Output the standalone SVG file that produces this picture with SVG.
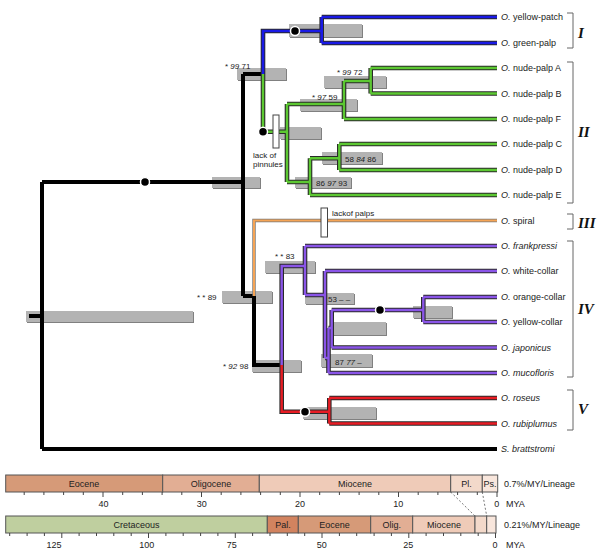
<svg xmlns="http://www.w3.org/2000/svg" xmlns:xlink="http://www.w3.org/1999/xlink" width="600" height="557" viewBox="0 0 600 557">
<style>
text{font-family:"Liberation Sans",Arial,sans-serif;fill:#222}
.tip{font-size:9px}
.sup{font-size:8px}
.num{font-family:"Liberation Serif","Times New Roman",serif;font-weight:bold;font-style:italic;font-size:15px;fill:#111}
.bar{fill:#b3b3b3}
.sh{fill:#808080}
.ol{fill:none;stroke:#2a2a2a;stroke-width:4.6;stroke-linejoin:miter;stroke-linecap:butt}
.blue{fill:none;stroke:#1a1ae6;stroke-width:2.6}
.green{fill:none;stroke:#5cc832;stroke-width:2.4}
.purple{fill:none;stroke:#8a55e8;stroke-width:2.4}
.red{fill:none;stroke:#e81c24;stroke-width:2.4}
.orange{fill:none;stroke:#f5a455;stroke-width:2}
.olo{fill:none;stroke:#777;stroke-width:3.4}
.blk{fill:none;stroke:#000;stroke-width:4}
.dot{fill:#000;stroke:#fff;stroke-width:1.5}
.chr{fill:#fff;stroke:#444;stroke-width:1}
.brk{fill:none;stroke:#666;stroke-width:1}
.ep{stroke:#555;stroke-width:1}
.tk{stroke:#444;stroke-width:1}
.tl{font-size:9px}
</style>
<defs>
<path id="pBlue" d="M263,74 V31 H321.7 M321.7,17 V43 M321.7,17 H497 M321.7,43 H497"/>
<path id="pGreen" d="M263,74 V131.7 H287 M287,104 V182 M287,104 H344 M344,81 V119 M344,81 H370.7 M370.7,68 V93.5 M370.7,68 H497 M370.7,93.5 H497 M344,119 H497 M287,182 H310 M310,158.3 V195 M310,158.3 H339.3 M339.3,144 V170 M339.3,144 H497 M339.3,170 H497 M310,195 H497"/>
<path id="pPurple" d="M281.7,365 V266 H305 M305,246 V295 M305,246 H497 M305,295 H325 M325,271 V358 M325,271 H497 M325,358 H328.5 M328.5,328 V373 M328.5,373 H497 M328.5,328 H331.7 M331.7,310 V347.5 M331.7,347.5 H497 M331.7,310 H423.3 M423.3,297 V322 M423.3,297 H497 M423.3,322 H497"/>
<path id="pRed" d="M281.7,365 V411.7 H329.3 M329.3,398 V423.5 M329.3,398 H497 M329.3,423.5 H497"/>
<path id="pOrange" d="M254,296 V220.5 H497"/>
</defs>

<g id="bars">
<rect class="sh" x="27" y="312" width="167" height="11"/><rect class="bar" x="26" y="311" width="167" height="11"/>
<rect class="sh" x="213" y="178" width="48" height="11"/><rect class="bar" x="212" y="177" width="48" height="11"/>
<rect class="sh" x="238" y="69" width="49" height="12"/><rect class="bar" x="237" y="68" width="49" height="12"/>
<rect class="sh" x="290" y="25" width="73" height="13"/><rect class="bar" x="289" y="24" width="73" height="13"/>
<rect class="sh" x="281" y="128" width="41" height="12"/><rect class="bar" x="280" y="127" width="41" height="12"/>
<rect class="sh" x="301" y="100" width="57" height="12"/><rect class="bar" x="300" y="99" width="57" height="12"/>
<rect class="sh" x="325" y="77" width="62" height="12"/><rect class="bar" x="324" y="76" width="62" height="12"/>
<rect class="sh" x="296" y="178" width="56" height="11"/><rect class="bar" x="295" y="177" width="56" height="11"/>
<rect class="sh" x="323" y="153" width="60" height="12"/><rect class="bar" x="322" y="152" width="60" height="12"/>
<rect class="sh" x="223" y="292" width="50" height="12"/><rect class="bar" x="222" y="291" width="50" height="12"/>
<rect class="sh" x="253" y="361" width="49" height="12"/><rect class="bar" x="252" y="360" width="49" height="12"/>
<rect class="sh" x="266" y="262" width="50" height="12"/><rect class="bar" x="265" y="261" width="50" height="12"/>
<rect class="sh" x="306" y="294" width="49" height="11"/><rect class="bar" x="305" y="293" width="49" height="11"/>
<rect class="sh" x="414" y="307" width="39" height="12"/><rect class="bar" x="413" y="306" width="39" height="12"/>
<rect class="sh" x="331" y="323" width="56" height="13"/><rect class="bar" x="330" y="322" width="56" height="13"/>
<rect class="sh" x="322" y="355" width="51" height="13"/><rect class="bar" x="321" y="354" width="51" height="13"/>
<rect class="sh" x="304" y="408" width="73" height="12"/><rect class="bar" x="303" y="407" width="73" height="12"/>
</g>

<g id="connectors">
<path class="blk" d="M29,316 H42 M42,182 V449 M42,182 H243 M243,74 V296 M243,74 H263 M243,296 H254 M254,296 V365 H281.7 M42,449 H497"/>
<use xlink:href="#pBlue" class="ol"/>
<use xlink:href="#pGreen" class="ol"/>
<use xlink:href="#pPurple" class="ol"/>
<use xlink:href="#pRed" class="ol"/>
<use xlink:href="#pOrange" class="olo"/>
<use xlink:href="#pBlue" class="blue"/>
<use xlink:href="#pGreen" class="green"/>
<use xlink:href="#pPurple" class="purple"/>
<use xlink:href="#pRed" class="red"/>
<use xlink:href="#pOrange" class="orange"/>
</g>

<g id="characters">
<rect class="chr" x="273" y="115" width="6" height="33"/>
<text class="sup" x="253" y="158">lack of</text>
<text class="sup" x="253" y="167">pinnules</text>
<rect class="chr" x="321" y="208" width="6.5" height="29"/>
<text class="sup" x="332" y="216">lackof palps</text>
<circle class="dot" cx="263" cy="131.7" r="4.5"/>
<circle class="dot" cx="145" cy="182" r="4.5"/>
<circle class="dot" cx="295" cy="31" r="4.5"/>
<circle class="dot" cx="380" cy="310" r="4.5"/>
<circle class="dot" cx="305" cy="411.7" r="4.5"/>
</g>

<g id="support">
<text class="sup" x="225" y="69">* <tspan font-style="italic">99</tspan> 71</text>
<text class="sup" x="312" y="100">* <tspan font-style="italic">97</tspan> 59</text>
<text class="sup" x="337" y="75">* <tspan font-style="italic">99</tspan> 72</text>
<text class="sup" x="316" y="185.5">86 <tspan font-style="italic">97</tspan> 93</text>
<text class="sup" x="345" y="161.5">58 <tspan font-style="italic">84</tspan> 86</text>
<text class="sup" x="197" y="300">* * 89</text>
<text class="sup" x="223" y="369">* <tspan font-style="italic">92</tspan> 98</text>
<text class="sup" x="275" y="259">* * 83</text>
<text class="sup" x="328" y="302">53 – –</text>
<text class="sup" x="335" y="365">87 <tspan font-style="italic">77</tspan> –</text>
</g>

<g id="tips">
<text class="tip" x="501" y="20"><tspan font-style="italic">O.</tspan> yellow-patch</text>
<text class="tip" x="501" y="46"><tspan font-style="italic">O.</tspan>  green-palp</text>
<text class="tip" x="501" y="71"><tspan font-style="italic">O.</tspan>  nude-palp A</text>
<text class="tip" x="501" y="96.5"><tspan font-style="italic">O.</tspan>  nude-palp B</text>
<text class="tip" x="501" y="122"><tspan font-style="italic">O.</tspan>  nude-palp F</text>
<text class="tip" x="501" y="147"><tspan font-style="italic">O.</tspan>  nude-palp C</text>
<text class="tip" x="501" y="173"><tspan font-style="italic">O.</tspan>  nude-palp D</text>
<text class="tip" x="501" y="198"><tspan font-style="italic">O.</tspan>  nude-palp E</text>
<text class="tip" x="501" y="223.5"><tspan font-style="italic">O.</tspan> spiral</text>
<text class="tip" x="501" y="249" font-style="italic">O. frankpressi</text>
<text class="tip" x="501" y="274"><tspan font-style="italic">O.</tspan> white-collar</text>
<text class="tip" x="501" y="300"><tspan font-style="italic">O.</tspan> orange-collar</text>
<text class="tip" x="501" y="325"><tspan font-style="italic">O.</tspan> yellow-collar</text>
<text class="tip" x="501" y="350.5" font-style="italic">O. japonicus</text>
<text class="tip" x="501" y="376" font-style="italic">O. mucofloris</text>
<text class="tip" x="501" y="401" font-style="italic">O. roseus</text>
<text class="tip" x="501" y="426.5" font-style="italic">O. rubiplumus</text>
<text class="tip" x="501" y="452" font-style="italic">S. brattstromi</text>
</g>

<g id="clades">
<path class="brk" d="M567,13 H573 V48 H567"/>
<text class="num" x="578" y="38">I</text>
<path class="brk" d="M567,62 H573 V203 H567"/>
<text class="num" x="578" y="137">II</text>
<path class="brk" d="M567,214 H573 V229 H567"/>
<text class="num" x="578" y="228">III</text>
<path class="brk" d="M567,241 H573 V377 H567"/>
<text class="num" x="578" y="314">IV</text>
<path class="brk" d="M567,390 H573 V430 H567"/>
<text class="num" x="578" y="414">V</text>
</g>

<g id="timescale1">
<rect class="ep" x="5.7" y="475" width="157" height="17" fill="#d69a78"/>
<rect class="ep" x="162.7" y="475" width="96.6" height="17" fill="#e2ae94"/>
<rect class="ep" x="259.3" y="475" width="191.4" height="17" fill="#efcbb8"/>
<rect class="ep" x="450.7" y="475" width="31.6" height="17" fill="#f3d9ca"/>
<rect class="ep" x="482.3" y="475" width="15.4" height="17" fill="#f8e6dc"/>
<text class="tl" x="84" y="486.5" text-anchor="middle">Eocene</text>
<text class="tl" x="211" y="486.5" text-anchor="middle">Oligocene</text>
<text class="tl" x="355" y="486.5" text-anchor="middle">Miocene</text>
<text class="tl" x="466.5" y="486.5" text-anchor="middle">Pl.</text>
<text class="tl" x="490" y="486.5" text-anchor="middle">Ps.</text>
<path class="tk" d="M497,492 v5 M477.3,492 v3 M457.6,492 v3 M437.9,492 v3 M418.2,492 v3 M398.5,492 v5 M378.8,492 v3 M359.1,492 v3 M339.4,492 v3 M319.7,492 v3 M300,492 v5 M280.3,492 v3 M260.6,492 v3 M240.9,492 v3 M221.2,492 v3 M201.5,492 v5 M181.8,492 v3 M162.1,492 v3 M142.4,492 v3 M122.7,492 v3 M103,492 v5 M83.3,492 v3 M63.6,492 v3 M43.9,492 v3 M24.2,492 v3"/>
<text class="tl" x="103.5" y="506.5" text-anchor="middle">40</text>
<text class="tl" x="201.7" y="506.5" text-anchor="middle">30</text>
<text class="tl" x="300" y="506.5" text-anchor="middle">20</text>
<text class="tl" x="398.3" y="506.5" text-anchor="middle">10</text>
<text class="tl" x="496.7" y="506.5" text-anchor="middle">0</text>
<text class="tl" x="506" y="506.5">MYA</text>
<text class="tl" x="504" y="486.5">0.7%/MY/Lineage</text>
</g>

<g id="timescale2">
<rect class="ep" x="5.7" y="516" width="261.6" height="17" fill="#bfcf9f"/>
<rect class="ep" x="267.3" y="516" width="31" height="17" fill="#d2835f"/>
<rect class="ep" x="298.3" y="516" width="72.4" height="17" fill="#d69a78"/>
<rect class="ep" x="370.7" y="516" width="42" height="17" fill="#e2ae94"/>
<rect class="ep" x="412.7" y="516" width="62.3" height="17" fill="#efcbb8"/>
<rect class="ep" x="475" y="516" width="11.7" height="17" fill="#f3d9ca"/>
<rect class="ep" x="486.7" y="516" width="9.3" height="17" fill="#f8e6dc"/>
<text class="tl" x="136.5" y="527.5" text-anchor="middle">Cretaceous</text>
<text class="tl" x="283" y="527.5" text-anchor="middle">Pal.</text>
<text class="tl" x="334.5" y="527.5" text-anchor="middle">Eocene</text>
<text class="tl" x="391.7" y="527.5" text-anchor="middle">Olig.</text>
<text class="tl" x="444" y="527.5" text-anchor="middle">Miocene</text>
<path class="tk" d="M495.5,533 v5 M478.2,533 v3 M460.8,533 v3 M443.5,533 v3 M426.1,533 v3 M408.8,533 v5 M391.4,533 v3 M374.1,533 v3 M356.7,533 v3 M339.4,533 v3 M322,533 v5 M304.7,533 v3 M287.3,533 v3 M270,533 v3 M252.6,533 v3 M235.3,533 v5 M217.9,533 v3 M200.6,533 v3 M183.2,533 v3 M165.9,533 v3 M148.5,533 v5 M131.2,533 v3 M113.8,533 v3 M96.5,533 v3 M79.1,533 v3 M61.8,533 v5 M44.4,533 v3 M27.1,533 v3 M9.7,533 v3"/>
<text class="tl" x="54" y="547.5" text-anchor="middle">125</text>
<text class="tl" x="146.7" y="547.5" text-anchor="middle">100</text>
<text class="tl" x="231.7" y="547.5" text-anchor="middle">75</text>
<text class="tl" x="321.7" y="547.5" text-anchor="middle">50</text>
<text class="tl" x="408.3" y="547.5" text-anchor="middle">25</text>
<text class="tl" x="495" y="547.5" text-anchor="middle">0</text>
<text class="tl" x="506" y="547.5">MYA</text>
<text class="tl" x="504" y="527.5">0.21%/MY/Lineage</text>
<path d="M450.7,492 L475,516 M482.3,492 L486.7,516" stroke="#555" stroke-width="0.8" stroke-dasharray="2,2" fill="none"/>
</g>
</svg>
